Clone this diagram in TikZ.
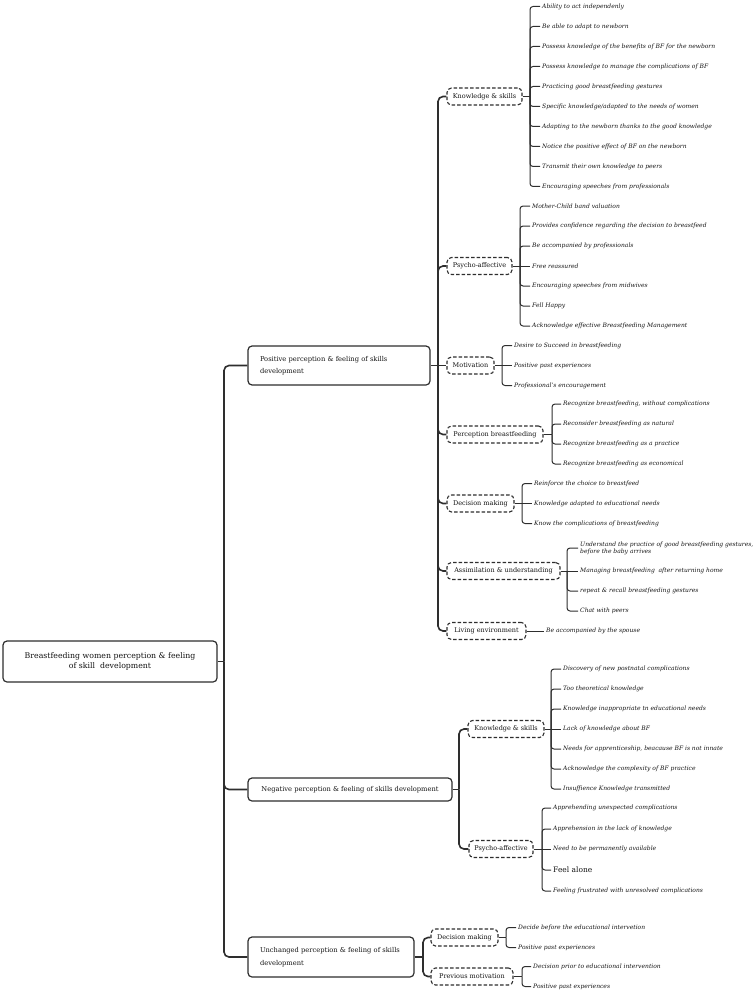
\documentclass[tikz,border=0pt]{standalone}
\usepackage{fontspec}
\setmainfont{DejaVu Serif}
\definecolor{ln}{HTML}{2E2E2E}
\definecolor{tx}{HTML}{141414}
\tikzset{
  mainbox/.style={draw=ln, line width=1.2pt, rounded corners=4pt, fill=white, text=tx, inner sep=0pt, font=\fontsize{6.7}{12.5}\selectfont},
  subbox/.style={draw=ln, line width=1.1pt, dash pattern=on 3.5pt off 2pt, rounded corners=4.5pt, fill=white, text=tx, inner sep=0pt, minimum height=17pt, font=\fontsize{6.5}{8}\selectfont},
  leaf/.style={anchor=west, inner xsep=2pt, inner ysep=0pt, align=left, text=tx, font=\fontsize{6.0}{7}\selectfont\itshape},
  trunk/.style={draw=ln, line width=1.6pt, rounded corners=5pt},
  twig/.style={draw=ln, line width=1.0pt, rounded corners=3pt},
}
\newcommand\leafset[4]{%
  \foreach \yy/\lt [count=\i] in {#4}{%
    \node[leaf] (#1\i) at (#3,\yy) {\lt};
    \ifdim \yy pt=#2pt
      \draw[twig] (#1j) -- (#1\i.west);
    \else
      \draw[twig] (#1j) -- (#1j |- #1\i.west) -- (#1\i.west);
    \fi
  }}
\begin{document}
\begin{tikzpicture}[x=1pt,y=-1pt]
\useasboundingbox (0,0) rectangle (753,995);

% main boxes
\node[mainbox, minimum width=214pt, minimum height=41pt, align=center, font=\fontsize{7.8}{10}\selectfont] (root) at (110,661.5) {Breastfeeding women perception \& feeling\\of skill\ \ development};
\node[mainbox, minimum height=39pt, inner xsep=12pt, text width=158pt, align=left] (pos) at (339,365.5) {Positive perception \& feeling of skills\\development};
\node[mainbox, minimum width=204pt, minimum height=23pt, align=center] (neg) at (350,789.5) {Negative perception \& feeling of skills development};
\node[mainbox, minimum height=40pt, inner xsep=12pt, text width=142pt, align=left] (unc) at (331,957) {Unchanged perception \& feeling of skills\\development};

% sub boxes
\node[subbox, minimum width=75pt] (pks) at (484.5,96.5) {Knowledge \& skills};
\node[subbox, minimum width=65pt] (pps) at (479.5,266) {Psycho-affective};
\node[subbox, minimum width=47pt] (pmo) at (470.5,365.5) {Motivation};
\node[subbox, minimum width=96pt] (ppe) at (495,434.5) {Perception breastfeeding};
\node[subbox, minimum width=67pt] (pdm) at (480.5,503.5) {Decision making};
\node[subbox, minimum width=113pt] (pas) at (503.5,571) {Assimilation \& understanding};
\node[subbox, minimum width=79pt] (pli) at (486.5,631) {Living environment};
\node[subbox, minimum width=76pt] (nks) at (506,729) {Knowledge \& skills};
\node[subbox, minimum width=64pt] (nps) at (501,849) {Psycho-affective};
\node[subbox, minimum width=67pt] (udm) at (464.5,937.5) {Decision making};
\node[subbox, minimum width=82pt] (upm) at (472,976.5) {Previous motivation};

% main trunk
\coordinate (rj) at (224,661.5);
\draw[trunk] (root.east) -- (rj);
\foreach \c in {pos,neg,unc} \draw[trunk] (rj) -- (rj |- \c.west) -- (\c.west);

\coordinate (pj) at (438,365.5);
\draw[trunk] (pos.east) -- (pj);
\foreach \c in {pks,pps,ppe,pdm,pas,pli} \draw[trunk] (pj) -- (pj |- \c.west) -- (\c.west);
\draw[trunk] (pj) -- (pmo.west);

\coordinate (nj) at (459,789.5);
\draw[trunk] (neg.east) -- (nj);
\foreach \c in {nks,nps} \draw[trunk] (nj) -- (nj |- \c.west) -- (\c.west);

\coordinate (uj) at (423,957);
\draw[trunk] (unc.east) -- (uj);
\foreach \c in {udm,upm} \draw[trunk] (uj) -- (uj |- \c.west) -- (\c.west);

% leaf junctions
\coordinate (pksj) at (530,96.5);
\coordinate (ppsj) at (520,266);
\coordinate (pmoj) at (502,365.5);
\coordinate (ppej) at (552,434.5);
\coordinate (pdmj) at (522,503.5);
\coordinate (pasj) at (567,571);
\coordinate (plij) at (534,631);
\coordinate (nksj) at (551,729);
\coordinate (npsj) at (542,849);
\coordinate (udmj) at (506,937.5);
\coordinate (upmj) at (522,976.5);
\foreach \c in {pks,pps,pmo,ppe,pdm,pas,pli,nks,nps,udm,upm} \draw[twig] (\c.east) -- (\c j);

\leafset{pks}{96.5}{540}{6.5/Ability to act independenly, 26.5/Be able to adapt to newborn, 46.5/Possess knowledge of the benefits of BF for the newborn, 66.5/Possess knowledge to manage the complications of BF, 86.5/Practicing good breastfeeding gestures, 106.5/{Specific knowledge/adapted to the needs of women}, 126.5/Adapting to the newborn thanks to the good knowledge, 146.5/Notice the positive effect of BF on the newborn, 166.5/Transmit their own knowledge to peers, 186.5/Encouraging speeches from professionals}

\leafset{pps}{266}{530}{206/Mother-Child band valuation, 226/Provides confidence regarding the decision to breastfeed, 246/Be accompanied by professionals, 266/Free reassured, 286/Encouraging speeches from midwives, 306/Fell Happy, 326/Acknowledge effective Breastfeeding Management}

\leafset{pmo}{365.5}{512}{345.5/Desire to Succeed in breastfeeding, 365.5/Positive past experiences, 385.5/Professional's encouragement}

\leafset{ppe}{434.5}{561}{404/{Recognize breastfeeding, without complications}, 424/Reconsider breastfeeding as natural, 444/Recognize breastfeeding as a practice, 464/Recognize breastfeeding as economical}

\leafset{pdm}{503.5}{532}{483.5/Reinforce the choice to breastfeed, 503.5/Knowledge adapted to educational needs, 523.5/Know the complications of breastfeeding}

\leafset{pas}{571}{578}{548/{Understand the practice of good breastfeeding gestures,\\before the baby arrives}, 571/Managing breastfeeding\ \ after returning home, 591/repeat \& recall breastfeeding gestures, 611/Chat with peers}

\leafset{pli}{631}{544}{631/Be accompanied by the spouse}

\leafset{nks}{729}{561}{669/Discovery of new postnatal complications, 689/Too theoretical knowledge, 709/Knowledge inappropriate tn educational needs, 729/Lack of knowledge about BF, 749/{Needs for apprenticeship, beacause BF is not innate}, 769/Acknowledge the complexity of BF practice, 789/Insuffience Knowledge transmitted}

\leafset{nps}{849}{551}{808/Apprehending unexpected complications, 829/Apprehension in the lack of knowledge, 849/Need to be permanently available, 870/{\fontsize{7.5}{9}\selectfont\upshape Feel alone}, 891/Feeling frustrated with unresolved complications}

\leafset{udm}{937.5}{516}{927.5/Decide before the educational intervetion, 947.5/Positive past experiences}

\leafset{upm}{976.5}{531}{966.5/Decision prior to educational intervention, 986.5/Positive past experiences}
\end{tikzpicture}
\end{document}
